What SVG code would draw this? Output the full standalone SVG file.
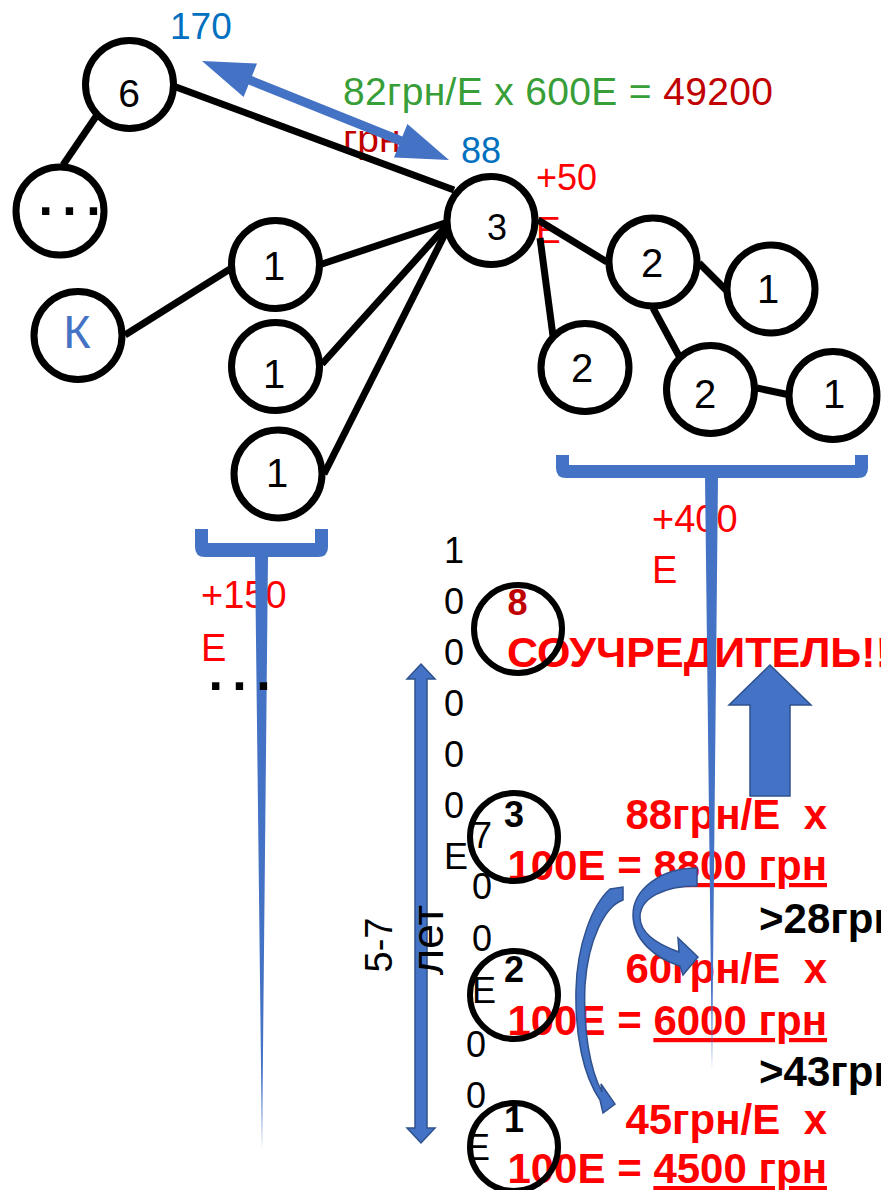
<svg xmlns="http://www.w3.org/2000/svg" width="881" height="1190" viewBox="0 0 881 1190">
<defs>
<style>
.t{font-family:"Liberation Sans",Arial,sans-serif}
.node circle{fill:#fff;stroke:#000;stroke-width:7}
.ring{fill:none;stroke:#000;stroke-width:6}
.lbl{font-family:"Liberation Sans",Arial,sans-serif;font-size:40px;text-anchor:middle;fill:#000}
.edge{stroke:#000;stroke-width:7;fill:none}
.blue{fill:#4472C4}
.barrow{fill:#4472C4;stroke:#2F528F;stroke-width:1.5}
.rb{font-family:"Liberation Sans",Arial,sans-serif;font-weight:bold;font-size:42px;fill:#FF0000}
.kb{font-family:"Liberation Sans",Arial,sans-serif;font-weight:bold;font-size:42px;fill:#000}
.red{fill:#FF0000}
.dred{fill:#C00000}
.cb{fill:#0070C0}
.dig{font-family:"Liberation Sans",Arial,sans-serif;font-size:36px;fill:#000}
.dots{font-family:"Liberation Sans",Arial,sans-serif;font-weight:bold;font-size:52px;letter-spacing:9.5px;fill:#000}
.u{text-decoration:underline}
</style>
</defs>
<rect width="881" height="1190" fill="#fff"/>

<!-- background annotation text -->
<text class="t dred" x="343" y="152" font-size="39">грн</text>
<text class="t" x="343" y="105" font-size="39" textLength="430" xml:space="preserve"><tspan fill="#389E38">82грн/Е х 600Е = </tspan><tspan fill="#C00000">49200</tspan></text>
<text class="t cb" x="170" y="39" font-size="37">170</text>
<text class="t cb" x="461" y="163" font-size="36">88</text>
<text class="t red" x="536" y="190" font-size="36">+50</text>
<text class="t red" x="536" y="243" font-size="37">Е</text>

<g id="connectors">
<line class="edge" x1="176" y1="87" x2="454" y2="190"/>
<line class="edge" x1="97" y1="115" x2="63" y2="165"/>
<line class="edge" x1="125" y1="335" x2="230" y2="269"/>
<line class="edge" x1="322" y1="264" x2="448" y2="222"/>
<line class="edge" x1="322" y1="364" x2="448" y2="224"/>
<line class="edge" x1="324" y1="474" x2="449" y2="226"/>
<line class="edge" x1="538" y1="220" x2="607" y2="262"/>
<line class="edge" x1="540" y1="238" x2="553" y2="336"/>
<line class="edge" x1="699" y1="263" x2="727" y2="291"/>
<line class="edge" x1="653" y1="308" x2="679" y2="356"/>
<line class="edge" x1="757" y1="388" x2="790" y2="395"/>
</g>

<g id="price-arrow">
<polygon class="blue" points="202,61 257,63.6 252,76.1 402.4,136.5 407.4,124 449,160 394,157.4 399,144.9 248.6,84.5 243.6,97"/>
</g>

<g id="node-6" class="node"><circle cx="129.5" cy="84.5" r="44"/><text class="lbl" x="129" y="107" style="font-size:39px">6</text></g>
<g id="node-dots" class="node"><circle cx="60" cy="211" r="44"/><text class="dots" x="38.4" y="215">...</text></g>
<g id="node-1a" class="node"><circle cx="275.5" cy="264.5" r="44"/><text class="lbl" x="274" y="280">1</text></g>
<g id="node-k" class="node"><circle cx="78" cy="335.5" r="44"/><text class="lbl" x="77" y="348" style="fill:#4472C4;font-size:47px">К</text></g>
<g id="node-1b" class="node"><circle cx="275.5" cy="366.5" r="44"/><text class="lbl" x="274" y="388">1</text></g>
<g id="node-1c" class="node"><circle cx="278" cy="474" r="44"/><text class="lbl" x="277" y="487">1</text></g>
<g id="node-3" class="node"><circle cx="491" cy="220.5" r="44"/><text class="lbl" x="497" y="240" style="font-size:36px">3</text></g>
<g id="node-2a" class="node"><circle cx="653" cy="262" r="44"/><text class="lbl" x="652" y="277">2</text></g>
<g id="node-1d" class="node"><circle cx="771" cy="289" r="44"/><text class="lbl" x="768" y="303">1</text></g>
<g id="node-2b" class="node"><circle cx="585" cy="367.5" r="44"/><text class="lbl" x="582" y="382">2</text></g>
<g id="node-2c" class="node"><circle cx="710.5" cy="389.5" r="44"/><text class="lbl" x="705" y="408">2</text></g>
<g id="node-1e" class="node"><circle cx="833" cy="395.5" r="44"/><text class="lbl" x="834" y="408">1</text></g>

<!-- labels under brackets -->
<text class="t red" x="201" y="608" font-size="38">+150</text>
<text class="t red" x="201" y="661" font-size="38">Е</text>
<text class="t red" x="652" y="532" font-size="38">+400</text>
<text class="t red" x="652" y="583" font-size="38">Е</text>

<!-- column digits -->
<text class="dig" x="444"><tspan x="444" y="563">1</tspan><tspan x="444" y="614">0</tspan><tspan x="444" y="665">0</tspan><tspan x="444" y="716">0</tspan><tspan x="444" y="767">0</tspan><tspan x="444" y="818">0</tspan><tspan x="444" y="869">Е</tspan></text>
<text class="dig" x="472"><tspan x="472" y="848">7</tspan><tspan x="472" y="899">0</tspan><tspan x="472" y="951">0</tspan><tspan x="472" y="1003">Е</tspan></text>
<text class="dig" x="466"><tspan x="466" y="1057">0</tspan><tspan x="466" y="1108">0</tspan><tspan x="466" y="1160">Е</tspan></text>

<!-- years arrow (under its label) -->
<g id="years-arrow"><polygon class="barrow" points="421,664 435,679 427,679 427,1128 435,1128 421,1143 407,1128 415,1128 415,679 407,679"/></g>
<text class="t" transform="translate(392,945) rotate(-90)" font-size="38" text-anchor="middle">5-7</text>
<text class="t" transform="translate(443,940) rotate(-90)" font-size="45" text-anchor="middle">лет</text>

<!-- level texts -->
<text class="rb" x="507.5" y="615" style="font-size:36px;fill:#C00000">8</text>
<text class="rb" x="507" y="667" style="font-size:43px">СОУЧРЕДИТЕЛЬ!!</text>
<text class="kb" x="504" y="827" style="font-size:36px">3</text>
<text class="kb" x="504" y="982" style="font-size:36px">2</text>
<text class="kb" x="504" y="1132" style="font-size:36px">1</text>
<text class="rb" x="827" y="829" text-anchor="end" xml:space="preserve">88грн/Е  х</text>
<text class="rb" x="827" y="880" text-anchor="end" xml:space="preserve">100Е = <tspan class="u">8800 грн</tspan></text>
<text class="kb" x="759" y="933">&gt;28грн</text>
<text class="rb" x="827" y="983" text-anchor="end" xml:space="preserve">60грн/Е  х</text>
<text class="rb" x="827" y="1035" text-anchor="end" xml:space="preserve">100Е = <tspan class="u">6000 грн</tspan></text>
<text class="kb" x="759" y="1086">&gt;43грн</text>
<text class="rb" x="827" y="1134" text-anchor="end" xml:space="preserve">45грн/Е  х</text>
<text class="rb" x="827" y="1183" text-anchor="end" xml:space="preserve">100Е = <tspan class="u">4500 грн</tspan></text>

<!-- level circles -->
<g id="level-8"><circle class="ring" cx="518" cy="629" r="44"/></g>
<g id="level-3"><circle class="ring" cx="514" cy="837" r="44"/></g>
<g id="level-2"><circle class="ring" cx="514" cy="995" r="44"/></g>
<g id="level-1"><circle class="ring" cx="514" cy="1147" r="44"/></g>

<!-- brackets -->
<g id="bracket-left">
<path class="blue" d="M195,529 L208,529 L208,543 L315,543 L315,529 L328,529 L328,547 Q328,557 318,557 L205,557 Q195,557 195,547 Z"/>
<polygon class="blue" points="255,555 268,555 262,1150"/>
</g>
<text class="dots" x="208.4" y="690">...</text>
<g id="bracket-right">
<path class="blue" d="M556,455 L569,455 L569,465 L855,465 L855,455 L868,455 L868,468 Q868,478 858,478 L566,478 Q556,478 556,468 Z"/>
<polygon class="blue" points="705,476 718,476 712,1070"/>
</g>

<!-- block arrows -->
<g id="up-arrow"><polygon class="barrow" points="770,665 811,705 790,705 790,796 750,796 750,705 729,705"/></g>
<g id="curved-arrow-1"><path class="barrow" d="M697,868 C660,868 633,890 633,915 C633,940 655,958 680,966 L683,975 L698,957 L678,938 L679,952 C662,946 640,935 640,917 C640,898 664,886 697,886 Z"/></g>
<g id="curved-arrow-2"><path class="barrow" d="M610,889 L623,887 L623,900 C605,906 588,940 585,985 C583,1030 590,1070 602,1092 L601,1084 L615,1104 L603,1113 L600,1100 C583,1075 575,1035 576,990 C577,945 592,905 610,889 Z"/></g>
</svg>
